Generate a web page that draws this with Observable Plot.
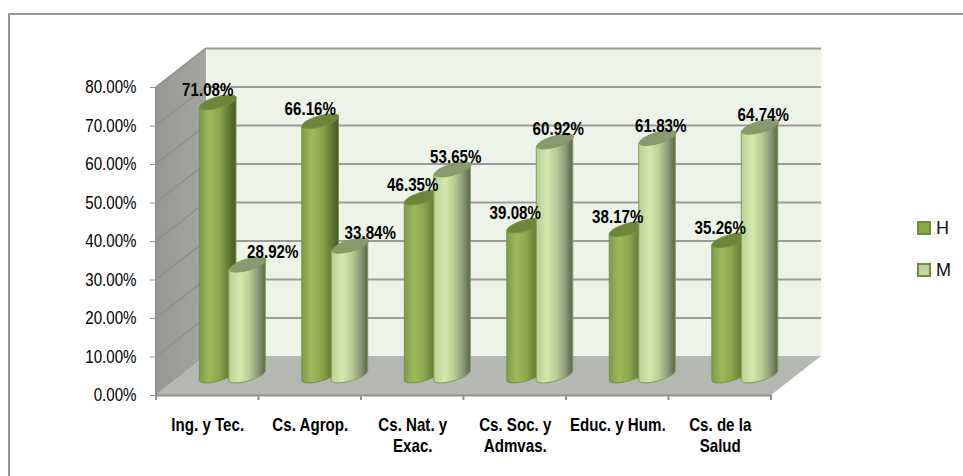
<!DOCTYPE html>
<html>
<head>
<meta charset="utf-8">
<script src="https://cdn.jsdelivr.net/npm/d3@7"></script>
<script src="https://cdn.jsdelivr.net/npm/@observablehq/plot@0.6"></script>
<style>
  html, body { margin: 0; padding: 0; background: #fff; }
  #wrap { position: relative; width: 963px; height: 476px; overflow: hidden; }
  #border { position: absolute; left: 8px; top: 13px; width: 960px; height: 480px; border: 2px solid #969696; box-sizing: border-box; }
  #chart { position: absolute; left: 0; top: 0; }
  .leg { position: absolute; left: 917px; width: 100px; height: 14px; font: 18px "Liberation Sans", Arial, sans-serif; color: #111; }
  .leg i { position: absolute; left: 0; top: 0; width: 10px; height: 10px; border: 2px solid #6f8d3a; }
  .leg span { position: absolute; left: 19px; top: -3px; line-height: 20px; }
</style>
</head>
<body>
<div id="wrap">
  <div id="border"></div>
  <div id="chart"></div>
  <div class="leg" style="top:221px"><i style="background:#8aa64a"></i><span>H</span></div>
  <div class="leg" style="top:263px"><i style="background:#c0d4a0"></i><span>M</span></div>
</div>
<script>
const categories = ["Ing. y Tec.", "Cs. Agrop.", "Cs. Nat. y\nExac.", "Cs. Soc. y\nAdmvas.", "Educ. y Hum.", "Cs. de la\nSalud"];
const hombres = [0.7108, 0.6616, 0.4635, 0.3908, 0.3817, 0.3526];
const mujeres = [0.2892, 0.3384, 0.5365, 0.6092, 0.6183, 0.6474];
const yTicks = [0, 0.1, 0.2, 0.3, 0.4, 0.5, 0.6, 0.7, 0.8];

const rows = categories.map((cat, i) => ({cat, h: hombres[i], m: mujeres[i]}));
const pct = d3.format(".2%");
const sans = "'Liberation Sans', Arial, sans-serif";

// depth of the pseudo-3D box
const depthX = 50, depthY = -39;
const midX = depthX / 2, midY = depthY / 2;

// tilted ellipse used for the ends of each cylinder
const capA = 19, capB = 5.5, capTh = -16 * Math.PI / 180, capK = 0.5523;
const capP = (u, v) => [u * Math.cos(capTh) - v * Math.sin(capTh), u * Math.sin(capTh) + v * Math.cos(capTh)];
const cap = {
  draw(ctx) {
    const a = capA, b = capB, k = capK, P = capP;
    const seg = (p1, p2, p3) => ctx.bezierCurveTo(...P(...p1), ...P(...p2), ...P(...p3));
    ctx.moveTo(...P(a, 0));
    seg([a, k * b], [k * a, b], [0, b]);
    seg([-k * a, b], [-a, k * b], [-a, 0]);
    seg([-a, -k * b], [-k * a, -b], [0, -b]);
    seg([k * a, -b], [a, -k * b], [a, 0]);
    ctx.closePath();
  }
};

// turn each bar rect into a cylinder body whose foot follows the tilted ellipse
const roundFoot = (index, scales, values, dims, context, next) => {
  const g = next(index, scales, values, dims, context);
  d3.select(g).selectAll("rect").each(function () {
    const r = d3.select(this);
    const x = +r.attr("x"), y = +r.attr("y"), w = +r.attr("width"), h = +r.attr("height");
    const cx = x + w / 2, yb = y + h;
    const q = (u, v) => { const p = capP(u, v); return `${cx + p[0]},${yb + p[1]}`; };
    const tip = capP(capA, 0)[1];
    const d = `M${x},${y - tip}L${q(-capA, 0)}C${q(-capA, capK * capB)} ${q(-capK * capA, capB)} ${q(0, capB)}` +
      `C${q(capK * capA, capB)} ${q(capA, capK * capB)} ${q(capA, 0)}L${x + w},${y + tip}Z`;
    const path = document.createElementNS("http://www.w3.org/2000/svg", "path");
    path.setAttribute("d", d);
    this.replaceWith(path);
  });
  return g;
};

const gradient = (sel, id, stops) => {
  const g = sel.append("linearGradient").attr("id", id)
    .attr("x1", 0).attr("y1", 0).attr("x2", 1).attr("y2", 0);
  stops.forEach(([o, col]) => g.append("stop").attr("offset", o).attr("stop-color", col));
};

const defs = () => {
  const d = d3.create("svg:defs");
  gradient(d, "gH", [[0, "#7f9b45"], [0.28, "#9cbb5c"], [0.55, "#8aa64c"], [0.8, "#647a36"], [1, "#47562a"]]);
  gradient(d, "gM", [[0, "#b9cf93"], [0.3, "#d5e8ae"], [0.55, "#bccd98"], [0.8, "#8c9a78"], [1, "#59634f"]]);
  gradient(d, "gSide", [[0, "#969894"], [1, "#a3a5a0"]]);
  return d.node();
};

// side wall, floor, side-wall grid lines and category ticks, placed through the scales
const box = (index, {x, y}) => {
  const [xL, xR] = x.range();
  const g = d3.create("svg:g");
  const yB = y(0), yT = y(0.8);
  const poly = pts => "M" + pts.map(p => p.join(",")).join("L") + "Z";
  g.append("path").attr("fill", "url(#gSide)")
    .attr("d", poly([[xL, yB], [xL + depthX, yB + depthY], [xL + depthX, yT + depthY], [xL, yT]]));
  g.append("path").attr("fill", "#b5b7b3")
    .attr("d", poly([[xL, yB], [xR, yB], [xR + depthX, yB + depthY], [xL + depthX, yB + depthY]]));
  g.append("g").selectAll("line").data(yTicks.slice(1)).join("line")
    .attr("x1", xL).attr("x2", xL + depthX)
    .attr("y1", d => y(d)).attr("y2", d => y(d) + depthY)
    .attr("stroke", "#8d8f8b").attr("stroke-width", 1.5);
  const edges = [...categories.map(c => x(c)), xR];
  g.append("g").selectAll("line").data(edges).join("line")
    .attr("x1", d => d).attr("x2", d => d)
    .attr("y1", yB).attr("y2", yB + 5)
    .attr("stroke", "#8f8f8f").attr("stroke-width", 2);
  g.append("line").attr("x1", xL).attr("x2", xL).attr("y1", yT).attr("y2", yB)
    .attr("stroke", "#8f8f8f").attr("stroke-width", 2);
  return g.node();
};

const cylinder = (key, grad, topFill, offset, edge, insetLeft, insetRight) => [
  Plot.barY(rows, {x: "cat", y1: 0, y2: key, fill: `url(#${grad})`, stroke: edge, strokeWidth: 1, insetLeft, insetRight, dx: midX, dy: midY, render: roundFoot}),
  Plot.dot(rows, {x: "cat", y: key, symbol: cap, r: 5, fill: topFill, stroke: edge, strokeWidth: 1, dx: offset, dy: midY})
];

const label = (key, data, dx) => Plot.text(data, {
  x: "cat", y: key, text: d => pct(d[key]), fontSize: 18, fontWeight: "bold", fill: "#000",
  dx, dy: midY - 12
});

const plot = Plot.plot({
  width: 963,
  height: 476,
  marginLeft: 156,
  marginRight: 192,
  marginTop: 87,
  marginBottom: 81,
  style: {fontFamily: sans, background: "transparent", overflow: "visible"},
  x: {domain: categories, padding: 0, round: false, label: null},
  y: {domain: [0, 0.8], label: null},
  marks: [
    defs,
    Plot.frame({fill: "#eef3ea", stroke: null, dx: depthX, dy: depthY}),
    box,
    Plot.ruleY(yTicks.slice(1), {stroke: "#9b9b9b", strokeWidth: 2, dx: depthX, dy: depthY}),
    ...cylinder("h", "gH", "#6d853b", 10, "#76923c", 18.25, 47.5),
    ...cylinder("m", "gM", "#8a9a70", 40, "#7f9c48", 47.75, 18.25),
    Plot.ruleY([0], {stroke: "#8f8f8f", strokeWidth: 2}),
    Plot.axisY({
      ticks: yTicks, tickFormat: pct, tickSize: 6, tickPadding: 14,
      fontSize: 18, stroke: "#8f8f8f", fill: "#000", label: null, anchor: "left"
    }),
    Plot.axisX({
      tickSize: 0, tickPadding: 21, fontSize: 18, fontWeight: "bold", fill: "#000",
      lineHeight: 1.15, label: null, anchor: "bottom", lineWidth: Infinity
    }),
    label("h", rows, 0),
    label("m", rows.slice(0, 1), 65),
    label("m", rows.slice(1, 2), 60),
    label("m", rows.slice(2), 43)
  ]
});
// the reference type is condensed: squeeze each text horizontally about its anchor
plot.querySelectorAll("text").forEach(t => {
  t.setAttribute("transform", (t.getAttribute("transform") || "") + " scale(0.84 1)");
});
document.getElementById("chart").appendChild(plot);
</script>
</body>
</html>
